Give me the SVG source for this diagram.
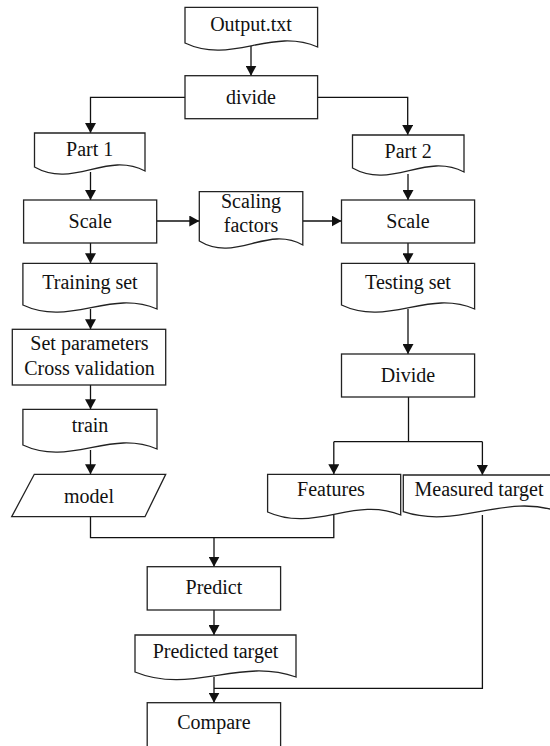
<svg xmlns="http://www.w3.org/2000/svg" width="550" height="746" viewBox="0 0 550 746" font-family="Liberation Serif, serif">
<style>
.box{fill:#fff;stroke:#222;stroke-width:1.3}
.ln{fill:none;stroke:#111;stroke-width:1.3}
.t{font-family:"Liberation Serif", serif;font-size:20px;fill:#111;text-anchor:middle}
</style>
<defs>
<marker id="ah" markerUnits="userSpaceOnUse" markerWidth="11" markerHeight="11" refX="10" refY="5.5" orient="auto">
<path d="M0,0 L10,5.5 L0,11 Z" fill="#111"/>
</marker>
</defs>
<rect width="550" height="746" fill="#fff"/>
<g id="connectors">
<path class="ln" d="M251,46 V75.7" marker-end="url(#ah)"/>
<path class="ln" d="M185,97.3 H90.5 V133" marker-end="url(#ah)"/>
<path class="ln" d="M317.6,97.3 H407.7 V135" marker-end="url(#ah)"/>
<path class="ln" d="M90.5,172 V200" marker-end="url(#ah)"/>
<path class="ln" d="M408,174 V200" marker-end="url(#ah)"/>
<path class="ln" d="M156.7,221 H199.3" marker-end="url(#ah)"/>
<path class="ln" d="M302.8,221 H341.5" marker-end="url(#ah)"/>
<path class="ln" d="M90.5,243 V263.3" marker-end="url(#ah)"/>
<path class="ln" d="M408,243 V263.3" marker-end="url(#ah)"/>
<path class="ln" d="M90.5,309 V329.3" marker-end="url(#ah)"/>
<path class="ln" d="M408,309 V354" marker-end="url(#ah)"/>
<path class="ln" d="M90.5,385 V409.3" marker-end="url(#ah)"/>
<path class="ln" d="M90.5,450 V474.3" marker-end="url(#ah)"/>
<path class="ln" d="M408.5,397 V441.7"/>
<path class="ln" d="M333.8,441.7 H482.4"/>
<path class="ln" d="M333.8,441.7 V474.3" marker-end="url(#ah)"/>
<path class="ln" d="M482.4,441.7 V475" marker-end="url(#ah)"/>
<path class="ln" d="M90.5,516.7 V537.7 H333.8 V515"/>
<path class="ln" d="M214,537.7 V566.7" marker-end="url(#ah)"/>
<path class="ln" d="M214,610 V635" marker-end="url(#ah)"/>
<path class="ln" d="M214,677 V702.7" marker-end="url(#ah)"/>
<path class="ln" d="M482.4,515 V688.3 H214"/>
</g>
<g id="output-txt">
<path class="box" d="M185,7.3 H317.6 V47 C271.2,27 231.4,65 185,43 Z"/>
<text class="t" x="251" y="30.7">Output.txt</text>
</g>
<g id="divide">
<rect class="box" x="185" y="75.7" width="132.6" height="43"/>
<text class="t" x="251" y="104">divide</text>
</g>
<g id="part1">
<path class="box" d="M34.5,133 H145 V171 C106.3,151 73.2,189 34.5,167 Z"/>
<text class="t" x="89.7" y="156">Part 1</text>
</g>
<g id="part2">
<path class="box" d="M352.5,135 H464 V172 C425,152 391.5,190 352.5,168 Z"/>
<text class="t" x="408.2" y="157.7">Part 2</text>
</g>
<g id="scale-left">
<rect class="box" x="23.6" y="200" width="133.1" height="43"/>
<text class="t" x="90.2" y="227.7">Scale</text>
</g>
<g id="scaling-factors">
<path class="box" d="M199.3,191.7 H302.8 V245 C266.6,225 235.5,263 199.3,241 Z"/>
<text class="t" x="251" y="208">Scaling</text>
<text class="t" x="251" y="232">factors</text>
</g>
<g id="scale-right">
<rect class="box" x="341.5" y="200" width="133.1" height="43"/>
<text class="t" x="408" y="227.7">Scale</text>
</g>
<g id="training-set">
<path class="box" d="M22.9,263.3 H157 V309 C110,289 69.9,327 22.9,305 Z"/>
<text class="t" x="90" y="289.3">Training set</text>
</g>
<g id="testing-set">
<path class="box" d="M341.5,263.3 H474.6 V309 C428,289 388.1,327 341.5,305 Z"/>
<text class="t" x="408" y="289.3">Testing set</text>
</g>
<g id="set-parameters">
<rect class="box" x="12.3" y="329.3" width="153.4" height="55.7"/>
<text class="t" x="89.5" y="350">Set parameters</text>
<text class="t" x="89.5" y="375">Cross validation</text>
</g>
<g id="train">
<path class="box" d="M22.9,409.3 H157 V449 C110,429 69.9,467 22.9,445 Z"/>
<text class="t" x="90" y="431.7">train</text>
</g>
<g id="model">
<path class="box" d="M34.3,474.3 H165.7 L145,516.7 H11.7 Z"/>
<text class="t" x="89" y="502.7">model</text>
</g>
<g id="divide2">
<rect class="box" x="341.5" y="354" width="133.1" height="43"/>
<text class="t" x="408" y="381.7">Divide</text>
</g>
<g id="features">
<path class="box" d="M267.6,474.3 H400.7 V515 C354.1,496 314.2,533 267.6,512 Z"/>
<text class="t" x="331" y="496">Features</text>
</g>
<g id="measured-target">
<path class="box" d="M403.3,475 H560 V512 C505,492 458.3,530 403.3,511.7 Z"/>
<text class="t" x="479" y="496">Measured target</text>
</g>
<g id="predict">
<rect class="box" x="147.2" y="566.7" width="133.4" height="43.3"/>
<text class="t" x="213.9" y="594">Predict</text>
</g>
<g id="predicted-target">
<path class="box" d="M135,635 H296 V677 C239.6,657 191.4,695 135,672 Z"/>
<text class="t" x="215.5" y="658.3" font-size="21">Predicted target</text>
</g>
<g id="compare">
<rect class="box" x="147.2" y="702.7" width="133.4" height="60"/>
<text class="t" x="213.9" y="729.3">Compare</text>
</g>
</svg>
